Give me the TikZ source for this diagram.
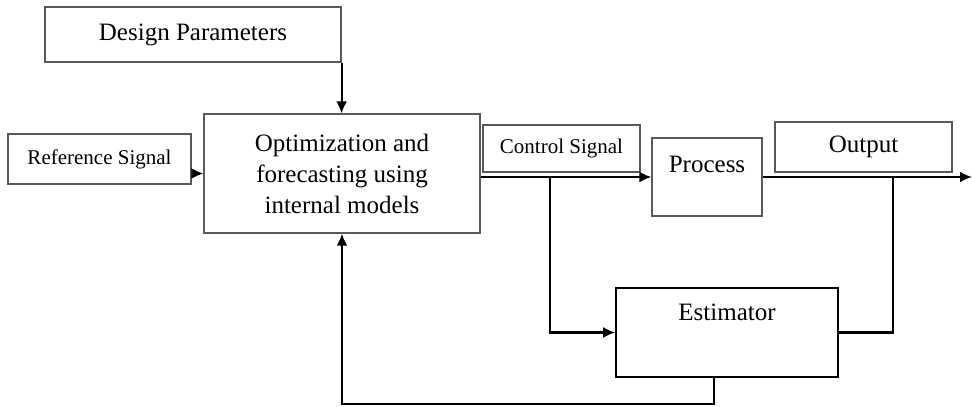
\documentclass[tikz,border=0pt]{standalone}
\usepackage{fontspec}
\setmainfont{Liberation Serif}
\usetikzlibrary{arrows.meta}

\begin{document}
\begin{tikzpicture}[x=0.5pt, y=-0.5pt, >={Latex[length=6pt, width=5.5pt]},
	box/.style={draw=black!65, line width=0.6pt, inner sep=0pt, font=\fontsize{12.5}{15.5}\selectfont},
	smallbox/.style={box, font=\fontsize{10.5}{12.5}\selectfont},
	link/.style={line width=1.1pt}]
	\useasboundingbox (0,0) rectangle (972,406);
	\node[box, minimum width=148pt, minimum height=27.5pt] (design) at (193,34.5) {Design Parameters};
	\node[box, align=center, minimum width=138pt, minimum height=59.5pt] (optim) at (342,173.5) {Optimization and\\forecasting using\\internal models};
	\node[smallbox, minimum width=91.5pt, minimum height=25pt] (ref) at (99.5,159) {Reference Signal};
	\node[smallbox, minimum width=78.5pt, minimum height=23.5pt] (ctrl) at (561.5,148.5) {Control Signal};
	\node[box, minimum width=55pt, text height=17pt, text depth=22pt] (proc) at (707,177) {Process};
	\node[box, minimum width=88.5pt, minimum height=25pt] (output) at (863.5,147) {Output};
	\node[box, draw=black, line width=0.8pt, minimum width=111pt, text height=16pt, text depth=28.5pt] (est) at (727,332.5) {Estimator};
	\coordinate (split) at (550,177);
	\coordinate (tap) at (893,177);
	\coordinate (sink) at (972,177);
	\coordinate (back) at (714,404);
	\draw[link, ->] (design.south east) -- (design.south east |- optim.north);
	\draw[link, ->] (ref.east |- optim.west) -- (optim.west);
	\draw[link, ->] (optim.east |- proc.west) -- (proc.west);
	\draw[link, ->] (split) |- (est.west);
	\draw[link, ->] (proc.east) -- (sink);
	\draw[link] (tap) |- (est.east);
	\draw[link, ->] (est.south -| back) -- (back) -| (optim.south);
\end{tikzpicture}
\end{document}
